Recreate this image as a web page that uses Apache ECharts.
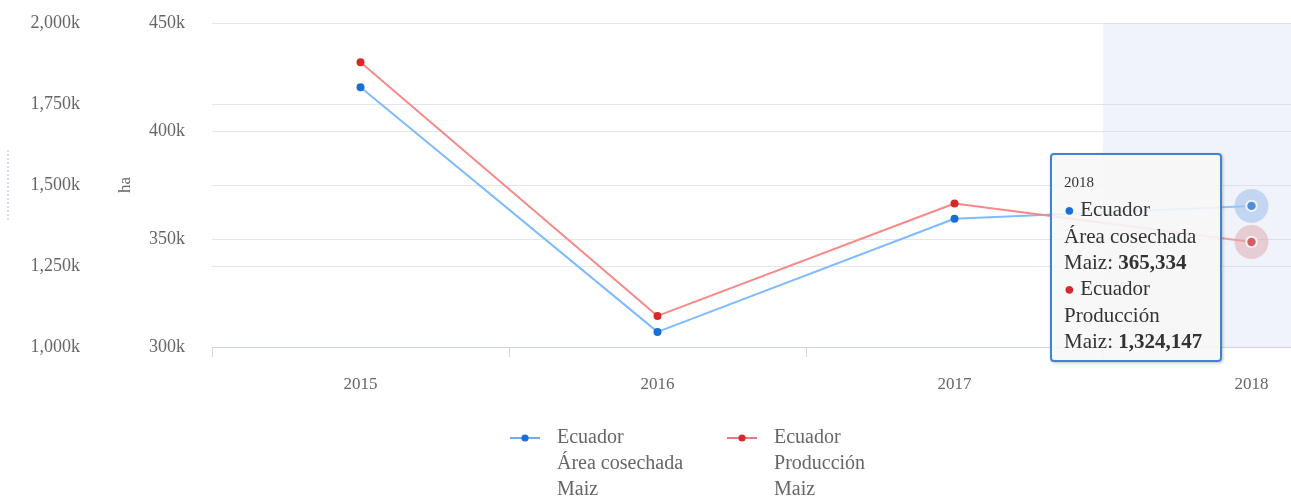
<!DOCTYPE html>
<html>
<head>
<meta charset="utf-8">
<script src="https://cdn.jsdelivr.net/npm/echarts@6/dist/echarts.min.js"></script>
<style>
  html, body { margin: 0; padding: 0; overflow: hidden; background: #fff; }
  #main { width: 1400px; height: 497px; }
</style>
</head>
<body>
<div id="main"></div>
<script>
var years = ['2015', '2016', '2017', '2018'];
var area = [420300, 307000, 359400, 365334];
var production = [1879000, 1096000, 1443000, 1324147];
var areaName = 'Ecuador\nÁrea cosechada\nMaiz';
var prodName = 'Ecuador\nProducción\nMaiz';

var font = 'Liberation Serif';
var blueDot = '#1a6fd6', blueLine = '#74aaea';
var redDot = '#d42a2a', redLine = '#e27d7d';

function fmtK(v) {
	return (v / 1000).toLocaleString('en-US') + 'k';
}

var myChart = echarts.init(document.getElementById('main'));

var option = {
	animation: false,
	textStyle: { fontFamily: font },
	graphic: [{
		type: 'line',
		shape: { x1: 8, y1: 150, x2: 8, y2: 220 },
		style: { stroke: '#a9bddb', lineWidth: 1, lineDash: [2, 2] }
	}],
	grid: { left: 212, top: 23, right: 0, bottom: 150 },
	legend: {
		left: 504,
		top: 368,
		itemWidth: 30,
		itemHeight: 9,
		itemGap: 43,
		// two blank lines on top so the icon sits on the first text line
		formatter: function (name) {
			return '\n\n' + name.split('\n').map(function (s) { return '{t|' + s + '}'; }).join('\n');
		},
		textStyle: {
			fontFamily: font, fontSize: 20, color: '#666', lineHeight: 26,
			rich: { t: { fontFamily: font, fontSize: 20, color: '#666', lineHeight: 26, padding: [0, 0, 0, 12] } }
		},
		data: [areaName, prodName]
	},
	tooltip: {
		trigger: 'axis',
		triggerOn: 'none',
		alwaysShowContent: true,
		transitionDuration: 0,
		position: [1050, 153],
		backgroundColor: 'rgba(247,247,247,0.88)',
		borderColor: '#3f83d4',
		borderWidth: 2,
		padding: [14, 18, 6, 12],
		extraCssText: 'border-radius:4px;box-shadow:1px 1px 3px rgba(0,0,0,0.25);line-height:26px;',
		textStyle: { fontFamily: font, fontSize: 21, color: '#333' },
		axisPointer: {
			type: 'shadow',
			shadowStyle: { color: 'rgba(205,215,235,0.3)' }
		},
		formatter: function (params) {
			var html = '<div style="font-size:15px;line-height:27px">' + params[0].name + '</div>';
			params.forEach(function (p) {
				var lines = p.seriesName.split('\n');
				html += '<span style="color:' + p.color + ';font-size:18px">\u25CF</span> ' + lines[0] + '<br>' +
					lines[1] + '<br>' + lines[2] + ': <b>' + p.value.toLocaleString('en-US') + '</b><br>';
			});
			return html;
		}
	},
	xAxis: {
		type: 'category',
		data: years,
		boundaryGap: true,
		axisLine: { lineStyle: { color: '#ccd6eb' } },
		axisTick: { show: true, length: 10, lineStyle: { color: '#ccd6eb' } },
		axisLabel: { margin: 29, fontFamily: font, fontSize: 17, color: '#666' }
	},
	yAxis: [{
		type: 'value',
		name: 'ha',
		nameLocation: 'middle',
		nameGap: 78,
		nameRotate: 90,
		nameTextStyle: { fontFamily: font, fontSize: 17, color: '#666' },
		min: 300000,
		max: 450000,
		interval: 50000,
		position: 'left',
		axisLine: { show: false },
		axisTick: { show: false },
		axisLabel: { margin: 27, fontFamily: font, fontSize: 18, color: '#666', formatter: fmtK },
		splitLine: { lineStyle: { color: '#e6e6e6' } }
	}, {
		type: 'value',
		min: 1000000,
		max: 2000000,
		interval: 250000,
		position: 'left',
		offset: 105,
		axisLine: { show: false },
		axisTick: { show: false },
		axisLabel: { margin: 27, fontFamily: font, fontSize: 18, color: '#666', formatter: fmtK },
		splitLine: { lineStyle: { color: '#e6e6e6' } }
	}],
	series: [{
		name: areaName,
		type: 'line',
		yAxisIndex: 0,
		data: area,
		symbol: 'circle',
		symbolSize: 8,
		itemStyle: { color: blueDot },
		lineStyle: { color: blueLine, width: 2 },
		emphasis: { scale: 1.3, itemStyle: { color: blueDot, borderColor: '#fff', borderWidth: 2 } },
		markPoint: {
			silent: true,
			z: 1,
			symbol: 'circle',
			symbolSize: 34,
			label: { show: false },
			itemStyle: { color: 'rgba(110,165,232,0.45)' },
			data: [{ coord: [3, area[3]] }]
		}
	}, {
		name: prodName,
		type: 'line',
		yAxisIndex: 1,
		data: production,
		symbol: 'circle',
		symbolSize: 8,
		itemStyle: { color: redDot },
		lineStyle: { color: redLine, width: 2 },
		emphasis: { scale: 1.3, itemStyle: { color: redDot, borderColor: '#fff', borderWidth: 2 } },
		markPoint: {
			silent: true,
			z: 1,
			symbol: 'circle',
			symbolSize: 34,
			label: { show: false },
			itemStyle: { color: 'rgba(222,120,120,0.4)' },
			data: [{ coord: [3, production[3]] }]
		}
	}]
};

myChart.setOption(option);

function showLast() {
	myChart.dispatchAction({ type: 'showTip', seriesIndex: 0, dataIndex: 3 });
	myChart.dispatchAction({ type: 'highlight', seriesIndex: [0, 1], dataIndex: 3 });
}
showLast();
setTimeout(showLast, 30);
</script>
</body>
</html>
